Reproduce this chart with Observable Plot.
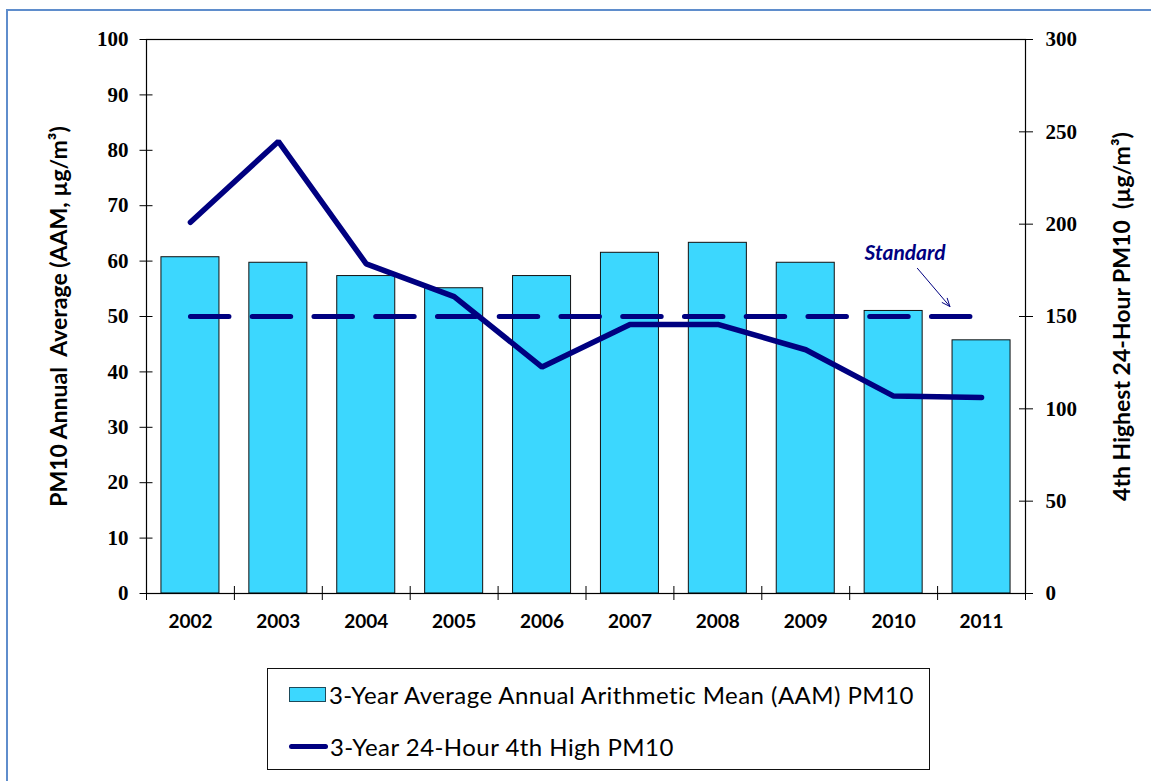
<!DOCTYPE html>
<html>
<head>
<meta charset="utf-8">
<script src="https://cdn.jsdelivr.net/npm/d3@7"></script>
<script src="https://cdn.jsdelivr.net/npm/@observablehq/plot@0.6"></script>
<style>
  html, body { margin: 0; padding: 0; background: #fff; }
  #wrap { position: relative; width: 1151px; height: 781px; overflow: hidden; background: #fff; }
  #border { position: absolute; left: 6px; top: 9px; width: 1200px; height: 800px; border: 2px solid #5f8dcc; box-sizing: border-box; }
  #chart { position: absolute; left: 0; top: 0; }
  #chart g[aria-label="y-axis tick label"], #chart g[aria-label="y-axis tick label"] text { font-family: "Liberation Serif", serif; font-weight: bold; font-size: 21px; fill: #000; }
  #chart g[aria-label="x-axis tick label"], #chart g[aria-label="x-axis tick label"] text { font-family: Lato, sans-serif; font-weight: bold; font-size: 19px; fill: #000; }
  #chart g[aria-label="y-axis label"], #chart g[aria-label="y-axis label"] text { font-family: Lato, sans-serif; font-weight: bold; font-size: 23px; fill: #000; }
  #legend { position: absolute; left: 267px; top: 668px; width: 663px; height: 102px; border: 1px solid #111; box-sizing: border-box; background: #fff; font-family: Lato, sans-serif; font-size: 24px; letter-spacing: 0.45px; color: #000; }
  .item { position: absolute; left: 21px; display: flex; align-items: center; white-space: nowrap; }
  .swatch { width: 37px; height: 15px; background: #3cd7fe; border: 1px solid #1d4a5a; box-sizing: border-box; margin-right: 3px; }
  .lineSw { width: 39px; height: 5px; background: #000080; border-radius: 3px; margin-right: 2px; }
</style>
</head>
<body>
<div id="wrap">
  <div id="border"></div>
  <div id="chart"></div>
  <div id="legend"></div>
</div>
<script>
// ---- data ----
const years = [2002, 2003, 2004, 2005, 2006, 2007, 2008, 2009, 2010, 2011];
const aamValues = [60.7, 59.7, 57.3, 55.1, 57.3, 61.5, 63.3, 59.7, 51.0, 45.7];          // left axis, µg/m³
const fourthHighValues = [201.0, 244.8, 178.5, 160.8, 122.6, 145.7, 145.7, 132.0, 106.9, 106.2]; // right axis, µg/m³
const leftTicks = [0, 10, 20, 30, 40, 50, 60, 70, 80, 90, 100];
const rightTicks = [0, 50, 100, 150, 200, 250, 300];
const standard24h = [150]; // right axis units
const standardLabel = [{year: 2010.13, value: 61.5, text: "Standard"}];
const standardArrow = [{x1: 2010.27, y1: 58.7, x2: 2010.64, y2: 51.8}];
const seriesNames = ["3-Year Average Annual Arithmetic Mean (AAM) PM10", "3-Year 24-Hour 4th High PM10"];
const leftTitle = "PM10 Annual  Average (AAM, µg/m³)";
const rightTitle = "4th Highest 24-Hour PM10  (µg/m³)";

const leftMax = 100, rightMax = 300;
const k = rightMax / leftMax;
const rows = years.map((year, i) => ({year, aam: aamValues[i], high: fourthHighValues[i]}));
const boundaries = d3.range(years.length + 1).map(i => years[0] - 0.5 + i);
const navy = "#000080";

const chart = Plot.plot({
  width: 1151,
  height: 650,
  marginLeft: 146,
  marginRight: 126,
  marginTop: 39,
  marginBottom: 57,
  style: {background: "transparent", overflow: "visible", color: "#000"},
  x: {domain: [years[0] - 0.5, years[years.length - 1] + 0.5]},
  y: {domain: [0, leftMax]},
  marks: [
    Plot.rectY(rows, {x1: d => d.year - 0.33, x2: d => d.year + 0.33, y: "aam", fill: "#3cd7fe", stroke: "#111", strokeWidth: 1}),
    Plot.line(years, {x: d => d, y: () => standard24h[0] / k, stroke: navy, strokeWidth: 5, strokeDasharray: "38.5,23.25", strokeLinecap: "round"}),
    Plot.line(rows, {x: "year", y: d => d.high / k, stroke: navy, strokeWidth: 5.5, strokeLinejoin: "miter", strokeLinecap: "round"}),
    Plot.text(standardLabel, {x: "year", y: "value", text: "text", fill: navy, fontFamily: "Lato, sans-serif", fontWeight: "bold", fontStyle: "italic", fontSize: 21}),
    Plot.arrow(standardArrow, {x1: "x1", y1: "y1", x2: "x2", y2: "y2", stroke: navy, strokeWidth: 1, headLength: 13, headAngle: 45}),
    Plot.frame({stroke: "#000", strokeWidth: 1.2}),
    // x axis: boundary ticks crossing the axis, then centered labels
    Plot.axisX({ticks: boundaries, tickSize: 14, dy: -7, tickFormat: () => "", label: null, stroke: "#000"}),
    Plot.axisX({ticks: years, tickSize: 0, tickPadding: 21, tickFormat: d => String(d), label: null}),
    // left axis
    Plot.axisY({anchor: "left", ticks: leftTicks, tickSize: 13, dx: 6.5, tickFormat: () => "", label: null}),
    Plot.axisY({anchor: "left", ticks: leftTicks, tickSize: 0, tickPadding: 18, tickFormat: d => String(d),
      label: leftTitle, labelAnchor: "center", labelOffset: 96, labelArrow: "none"}),
    // right axis (values divided by k onto the shared y scale)
    Plot.axisY({anchor: "right", ticks: rightTicks.map(d => d / k), tickSize: 14, dx: -7, tickFormat: () => "", label: null}),
    Plot.axisY({anchor: "right", ticks: rightTicks.map(d => d / k), tickSize: 0, tickPadding: 20, tickFormat: d => String(Math.round(d * k)),
      label: rightTitle, labelAnchor: "center", labelOffset: 104, labelArrow: "none"})
  ]
});
document.getElementById("chart").appendChild(chart);

// legend
const legend = document.getElementById("legend");
legend.innerHTML =
  `<div class="item" style="top:11px"><div class="swatch"></div><span>${seriesNames[0]}</span></div>` +
  `<div class="item" style="top:63px"><div class="lineSw"></div><span>${seriesNames[1]}</span></div>`;
</script>
</body>
</html>
